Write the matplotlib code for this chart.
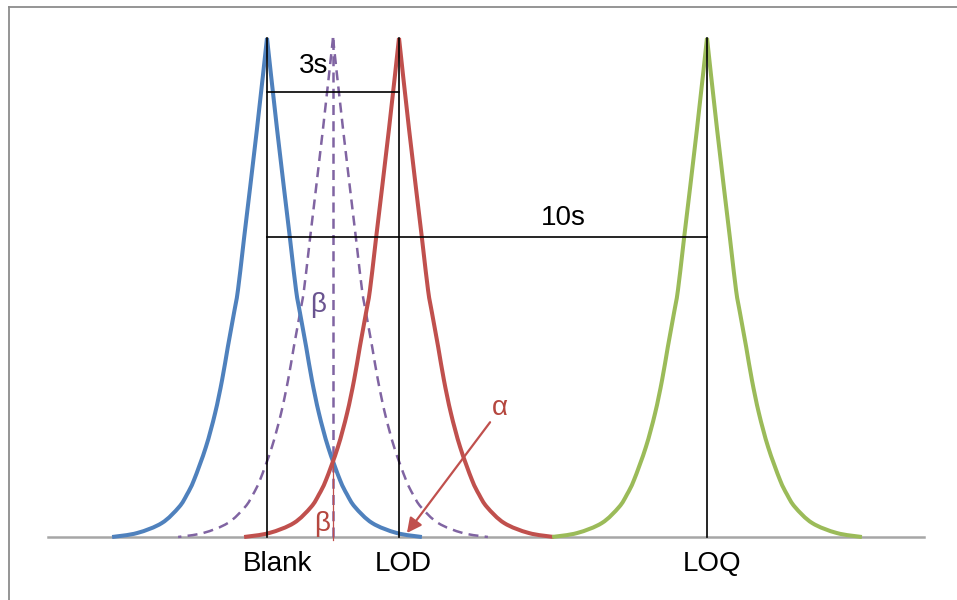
import numpy as np
import matplotlib
matplotlib.use("Agg")
import matplotlib.pyplot as plt
from matplotlib.lines import Line2D
from matplotlib.path import Path
from matplotlib.patches import PathPatch

plt.rcParams['font.family'] = ['Liberation Sans', 'DejaVu Sans']

# peak profile (offset from centre in units of s, height relative to peak)
profile_offset = [0.0, 0.23, 0.52, 0.66, 0.75, 0.89, 1.02, 1.18, 1.39, 1.66, 1.82, 2.0, 2.39, 2.95, 3.52]
profile_height = [1.0, 0.816, 0.60, 0.495, 0.449, 0.381, 0.315, 0.248, 0.180, 0.114, 0.085, 0.060, 0.028, 0.008, 0.0]

# centres of the distributions
blank_pos = 0.0
mid_pos = 1.5
lod_pos = 3.0
loq_pos = 10.0

tick_labels = ['Blank', 'LOD', 'LOQ']
tick_label_x = [0.24, 3.09, 10.11]

blue = '#4F81BD'
red = '#C0504D'
green = '#9BBB59'
purple = '#8064A2'
FS = 20


def smooth_path(x, y):
    """Catmull-Rom style smoothed line through the points (like Excel's smoothed lines)."""
    pts = np.column_stack([x, y])
    verts = [pts[0]]
    codes = [Path.MOVETO]
    n = len(pts)
    for i in range(n - 1):
        p0 = pts[i - 1] if i > 0 else pts[i]
        p1 = pts[i]
        p2 = pts[i + 1]
        p3 = pts[i + 2] if i + 2 < n else pts[i + 1]
        c1 = p1 + (p2 - p0) / 6.0
        c2 = p2 - (p3 - p1) / 6.0
        verts += [c1, c2, p2]
        codes += [Path.CURVE4] * 3
    return Path(verts, codes)


def draw_peak(ax, center, **kw):
    off = np.array(profile_offset)
    h = np.array(profile_height)
    # each side drawn separately to keep the pointed top
    for sign in (-1, 1):
        p = smooth_path(center + sign * off, h)
        ax.add_patch(PathPatch(p, fill=False, **kw))


fig = plt.figure(figsize=(9.57, 6.0), dpi=100)
ax = fig.add_axes([0, 0, 1, 1])
ax.axis('off')
ax.set_xlim(-267 / 44, 690 / 44)
ax.set_ylim(-63 / 499, 537 / 499)

# baseline
ax.plot([-4.98, 14.93], [0, 0], color='#A6A6A6', lw=1.8, zorder=1)

# curves
draw_peak(ax, mid_pos, edgecolor=purple, lw=1.8, linestyle=(0, (4, 2.5)), zorder=2)
ax.plot([mid_pos, mid_pos], [0, 1.0], color=purple, lw=1.8, dashes=(4, 2.5), zorder=2)
for c, col in [(blank_pos, blue), (lod_pos, red), (loq_pos, green)]:
    draw_peak(ax, c, edgecolor=col, lw=2.9, capstyle='butt', joinstyle='miter', zorder=3)

# vertical markers
for c in [blank_pos, lod_pos, loq_pos]:
    ax.plot([c, c], [0, 1.0], color='black', lw=1.2, zorder=4)
ax.plot([mid_pos, mid_pos], [-0.006, 0.15], color=red, lw=0.9, zorder=4)

# distance bars
ax.plot([blank_pos, lod_pos], [0.892, 0.892], color='black', lw=1.2, zorder=4)
ax.plot([blank_pos, loq_pos], [0.601, 0.601], color='black', lw=1.2, zorder=4)
ax.text(1.05, 0.944, '3s', fontsize=FS, ha='center', va='center')
ax.text(6.73, 0.639, '10s', fontsize=FS, ha='center', va='center')

# greek labels and arrow
ax.text(1.16, 0.465, 'β', fontsize=FS, color='#6A5490', ha='center', va='center')
ax.text(1.25, 0.026, 'β', fontsize=FS, color='#B5473F', ha='center', va='center')
ax.text(5.30, 0.258, 'α', fontsize=FS, color='#B5473F', ha='center', va='center')
ax.annotate('', xy=(3.18, 0.008), xytext=(5.07, 0.23),
            arrowprops=dict(arrowstyle='-|>', color=red, lw=1.6, mutation_scale=22,
                            shrinkA=0, shrinkB=0), zorder=5)

for lab, lx in zip(tick_labels, tick_label_x):
    ax.text(lx, -0.054, lab, fontsize=FS, ha='center', va='center')

# frame (left and top)
fig.add_artist(Line2D([8.5 / 957, 8.5 / 957], [0, 1 - 6.5 / 600], transform=fig.transFigure,
                      color='#8C8C8C', lw=1.3))
fig.add_artist(Line2D([8.5 / 957, 1], [1 - 6.5 / 600, 1 - 6.5 / 600], transform=fig.transFigure,
                      color='#8C8C8C', lw=1.3))

fig.savefig('out.png', dpi=100)
